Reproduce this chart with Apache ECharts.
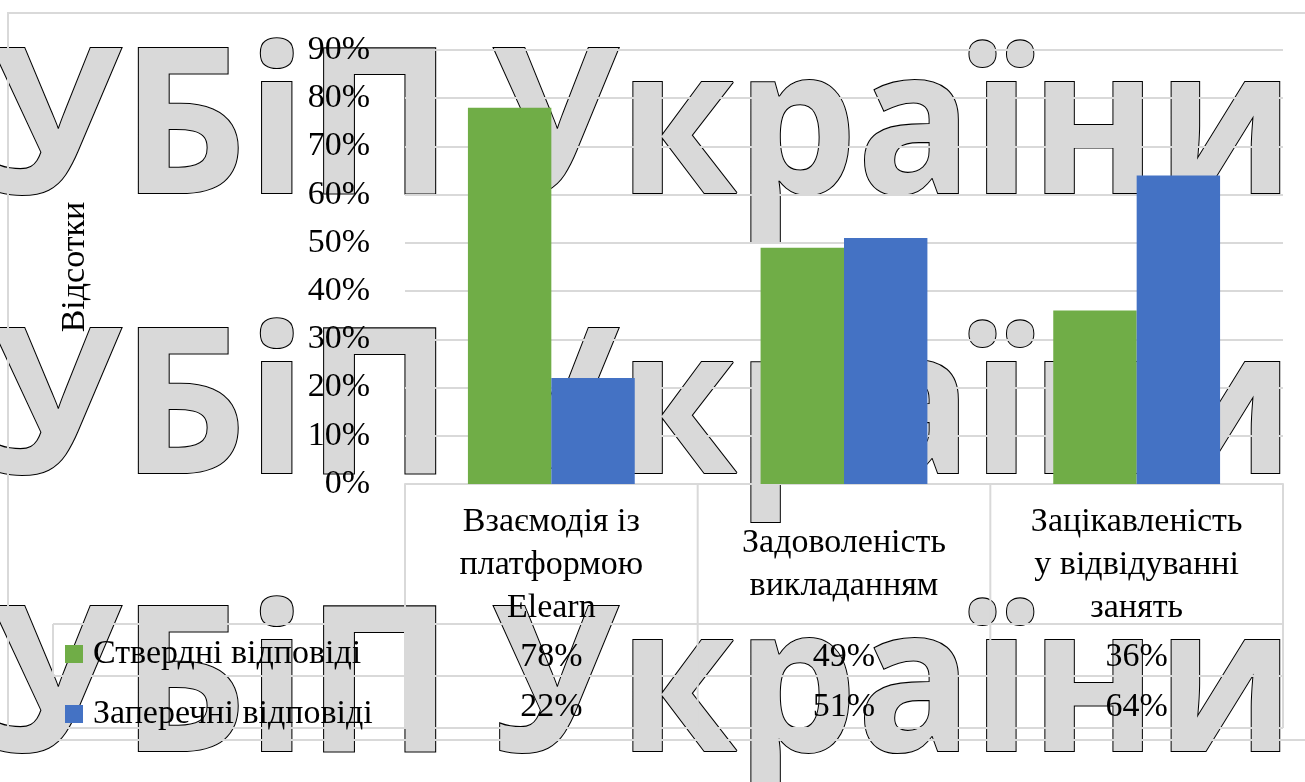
<!DOCTYPE html>
<html><head><meta charset="utf-8">
<script src="https://cdn.jsdelivr.net/npm/echarts@6/dist/echarts.min.js"></script>
<style>html,body{margin:0;padding:0;background:#fff}#c{width:1305px;height:782px}</style>
</head><body><div id="c"></div>
<script>
const categories = ['Взаємодія із\nплатформою\nElearn', 'Задоволеність\nвикладанням', 'Зацікавленість\nу відвідуванні\nзанять'];
const seriesNames = ['Ствердні відповіді', 'Заперечні відповіді'];
const positive = [0.78, 0.49, 0.36];
const negative = [0.22, 0.51, 0.64];
const axisTitle = 'Відсотки';
const watermarkText = 'УБіП України';

const SERIF = '"Liberation Serif", "Times New Roman", serif';
const GRID = '#d9d9d9';
const pct = v => Math.round(v * 100) + '%';

const chart = echarts.init(document.getElementById('c'), null, {renderer: 'canvas'});
const gridL = 405, gridR = 22, gridT = 50, gridB = 298;
const W = 1305, H = 782;

const option = {
  backgroundColor: '#fff',
  animation: false,
  grid: {left: gridL, right: gridR, top: gridT, bottom: gridB},
  legend: {
    orient: 'vertical', left: 65, top: 633, padding: 0,
    itemWidth: 18, itemHeight: 18, itemGap: 18, icon: 'rect',
    textStyle: {fontFamily: SERIF, fontSize: 34, lineHeight: 34, color: '#000', padding: [8, 0, 0, 5]},
    data: seriesNames
  },
  xAxis: {
    type: 'category', data: categories,
    axisLine: {show: true, lineStyle: {color: GRID, width: 2}},
    axisTick: {show: false},
    axisLabel: {interval: 0, fontFamily: SERIF, fontSize: 34, lineHeight: 43, color: '#000',
      verticalAlign: 'middle', margin: 81}
  },
  yAxis: {
    type: 'value', min: 0, max: 0.9, interval: 0.1,
    name: axisTitle, nameLocation: 'middle', nameRotate: 90, nameGap: 313,
    nameTextStyle: {fontFamily: SERIF, fontSize: 34, color: '#000'},
    axisLine: {show: false}, axisTick: {show: false},
    axisLabel: {formatter: pct, fontFamily: SERIF, fontSize: 34, color: '#000', margin: 35},
    splitLine: {lineStyle: {color: GRID, width: 2}}
  },
  series: [
    {name: seriesNames[0], type: 'bar', data: positive, barGap: '0%', barCategoryGap: '43%',
      itemStyle: {color: '#70AD47'}},
    {name: seriesNames[1], type: 'bar', data: negative, barGap: '0%', barCategoryGap: '43%',
      itemStyle: {color: '#4472C4'}}
  ]
};
chart.setOption(option);

// Build data table & watermark
const colW = (W - gridL - gridR) / categories.length;
const tableTop = H - gridB, row1 = 624, row2 = 676, row3 = 728;
const g = [];
// watermark (behind everything), each word fitted to its span in the reference
const wmFont = 'bold 203px "Open Sans"';
const ctx = document.createElement('canvas').getContext('2d');
ctx.font = wmFont;
const words = watermarkText.split(' ');
const wordSpans = [[-9, 462], [492, 802]];
words.forEach((w, k) => {
  const sc = wordSpans[k][1] / ctx.measureText(w).width;
  [237, 517, 795].forEach(by => {
    g.push({type: 'text', z: -5, silent: true, x: wordSpans[k][0], y: by, scaleX: sc, style: {
      text: w, x: 0, y: 0, textAlign: 'left', textVerticalAlign: 'bottom',
      font: wmFont, fill: '#d9d9d9', stroke: '#000', lineWidth: 2.2
    }});
  });
});
// outer border
g.push({type: 'rect', z: 1, silent: true, shape: {x: 8, y: 13, width: W, height: 727},
  style: {fill: 'none', stroke: GRID, lineWidth: 2}});
// vertical table lines
for (let i = 0; i <= categories.length; i++) {
  const x = gridL + i * colW;
  g.push({type: 'line', z: 1, silent: true, shape: {x1: x, y1: tableTop, x2: x, y2: row3},
    style: {stroke: GRID, lineWidth: 2}});
}
[row1, row2, row3].forEach(y => g.push({type: 'line', z: 1, silent: true,
  shape: {x1: 53, y1: y, x2: gridL + categories.length * colW, y2: y}, style: {stroke: GRID, lineWidth: 2}}));
g.push({type: 'line', z: 1, silent: true, shape: {x1: 53, y1: row1, x2: 53, y2: row3},
  style: {stroke: GRID, lineWidth: 2}});
// values
[positive, negative].forEach((arr, r) => {
  arr.forEach((v, i) => {
    const cx = chart.convertToPixel({xAxisIndex: 0}, i);
    g.push({type: 'text', z: 3, silent: true, style: {
      text: pct(v), x: cx, y: (r === 0 ? (row1 + row2) / 2 + 7 : (row2 + row3) / 2 + 5),
      textAlign: 'center', textVerticalAlign: 'middle',
      font: '34px ' + SERIF, fill: '#000'
    }});
  });
});
chart.setOption({graphic: g});
</script>
</body></html>
